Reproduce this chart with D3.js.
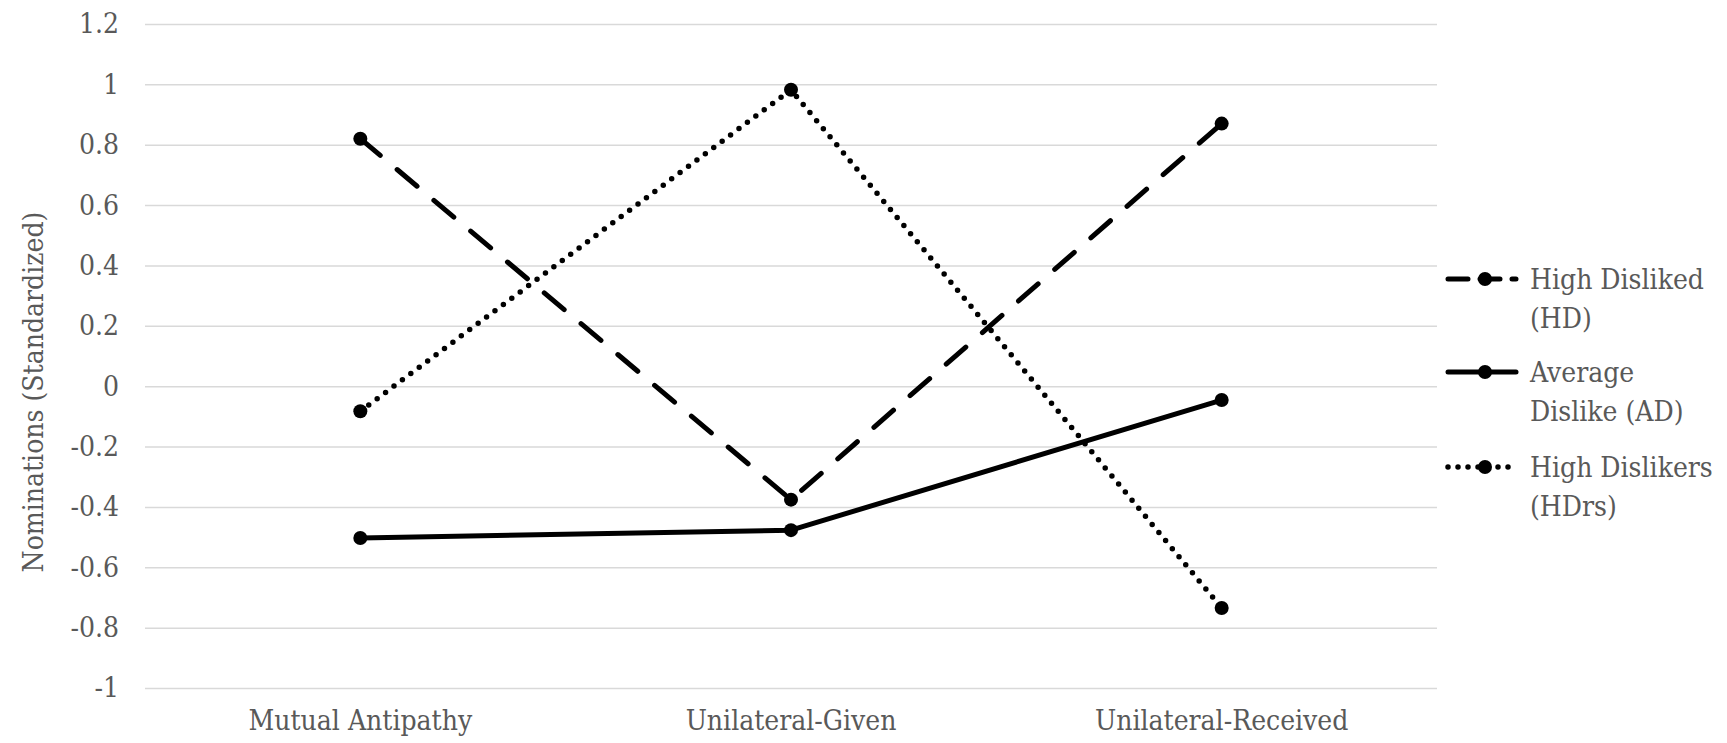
<!DOCTYPE html>
<html>
<head>
<meta charset="utf-8">
<script src="https://cdn.jsdelivr.net/npm/d3@7"></script>
<style>
  html, body { margin: 0; padding: 0; background: #fff; }
  svg { display: block; }
  svg text { font-stretch: condensed; }
</style>
</head>
<body>
<svg id="chart" width="1727" height="743"></svg>
<script>
const categories = ["Mutual Antipathy", "Unilateral-Given", "Unilateral-Received"];
const seriesNames = ["High Disliked (HD)", "Average Dislike (AD)", "High Dislikers (HDrs)"];
const legendLines = [["High Disliked", "(HD)"], ["Average", "Dislike (AD)"], ["High Dislikers", "(HDrs)"]];
const hdValues = [0.82, -0.376, 0.87];
const adValues = [-0.503, -0.477, -0.046];
const hdrsValues = [-0.083, 0.982, -0.735];
const tickValues = [-1, -0.8, -0.6, -0.4, -0.2, 0, 0.2, 0.4, 0.6, 0.8, 1, 1.2];
const tickLabels = ["-1", "-0.8", "-0.6", "-0.4", "-0.2", "0", "0.2", "0.4", "0.6", "0.8", "1", "1.2"];
const yTitle = "Nominations (Standardized)";

const series = [
  { name: seriesNames[0], values: hdValues, dash: "26,22", cap: "round", width: 5 },
  { name: seriesNames[1], values: adValues, dash: null, cap: "round", width: 5 },
  { name: seriesNames[2], values: hdrsValues, dash: "0,10.5", cap: "round", width: 5.5 }
];

const FONT = '"DejaVu Serif Condensed", "DejaVu Serif", serif';
const FS = 28;
const svg = d3.select("#chart");
const plotLeft = 145, plotRight = 1437, plotTop = 24, plotBottom = 688;

const x = d3.scaleBand().domain(categories).range([plotLeft, plotRight]);
const y = d3.scaleLinear().domain([-1, 1.2]).range([plotBottom, plotTop]);

const grid = svg.append("g").attr("transform", `translate(${plotLeft},0)`)
  .call(d3.axisLeft(y).tickValues(tickValues).tickSize(-(plotRight - plotLeft)).tickFormat(""));
grid.select(".domain").remove();
grid.selectAll(".tick line").attr("stroke", "#d9d9d9").attr("stroke-width", 1.5);

const yAxis = svg.append("g").attr("transform", `translate(${plotLeft},0)`)
  .call(d3.axisLeft(y).tickValues(tickValues).tickSize(0).tickPadding(26)
    .tickFormat(d => tickLabels[tickValues.indexOf(d)]));
yAxis.attr("font-family", FONT).attr("font-size", FS);
yAxis.select(".domain").remove();
yAxis.selectAll(".tick text").attr("fill", "#595959");

const xAxis = svg.append("g").attr("transform", `translate(0,${plotBottom})`)
  .call(d3.axisBottom(x).tickSize(0).tickPadding(22));
xAxis.attr("font-family", FONT).attr("font-size", FS);
xAxis.select(".domain").remove();
xAxis.selectAll(".tick text").attr("fill", "#595959");

svg.append("text")
  .attr("transform", `translate(33,392) rotate(-90)`)
  .attr("text-anchor", "middle").attr("dominant-baseline", "central")
  .attr("font-family", FONT).attr("font-size", FS).attr("fill", "#595959")
  .text(yTitle);

const line = d3.line().x((d, i) => x(categories[i]) + x.bandwidth() / 2).y(d => y(d));
series.forEach(s => {
  const p = svg.append("path").datum(s.values)
    .attr("d", line).attr("fill", "none").attr("stroke", "#000")
    .attr("stroke-width", s.width).attr("stroke-linecap", s.cap).attr("stroke-linejoin", "round");
  if (s.dash) p.attr("stroke-dasharray", s.dash);
  svg.append("g").selectAll("circle").data(s.values).join("circle")
    .attr("cx", (d, i) => x(categories[i]) + x.bandwidth() / 2)
    .attr("cy", d => y(d)).attr("r", 7).attr("fill", "#000");
});

const legendY = [279, 372, 467];
series.forEach((s, i) => {
  const g = svg.append("g").attr("transform", `translate(0,${legendY[i]})`);
  const l = g.append("line").attr("x1", 1448).attr("x2", 1516).attr("y1", 0).attr("y2", 0)
    .attr("stroke", "#000").attr("stroke-width", s.width).attr("stroke-linecap", s.cap);
  if (s.dash) l.attr("stroke-dasharray", i === 0 ? "20,12" : "0,10");
  g.append("circle").attr("cx", 1485).attr("cy", 0).attr("r", 7).attr("fill", "#000");
  const t = g.append("text").attr("x", 1530).attr("y", 0)
    .attr("font-family", FONT).attr("font-size", FS).attr("fill", "#595959");
  legendLines[i].forEach((ln, j) => {
    t.append("tspan").attr("x", 1530).attr("dy", j === 0 ? "0.35em" : "1.4em").text(ln);
  });
});
</script>
</body>
</html>
